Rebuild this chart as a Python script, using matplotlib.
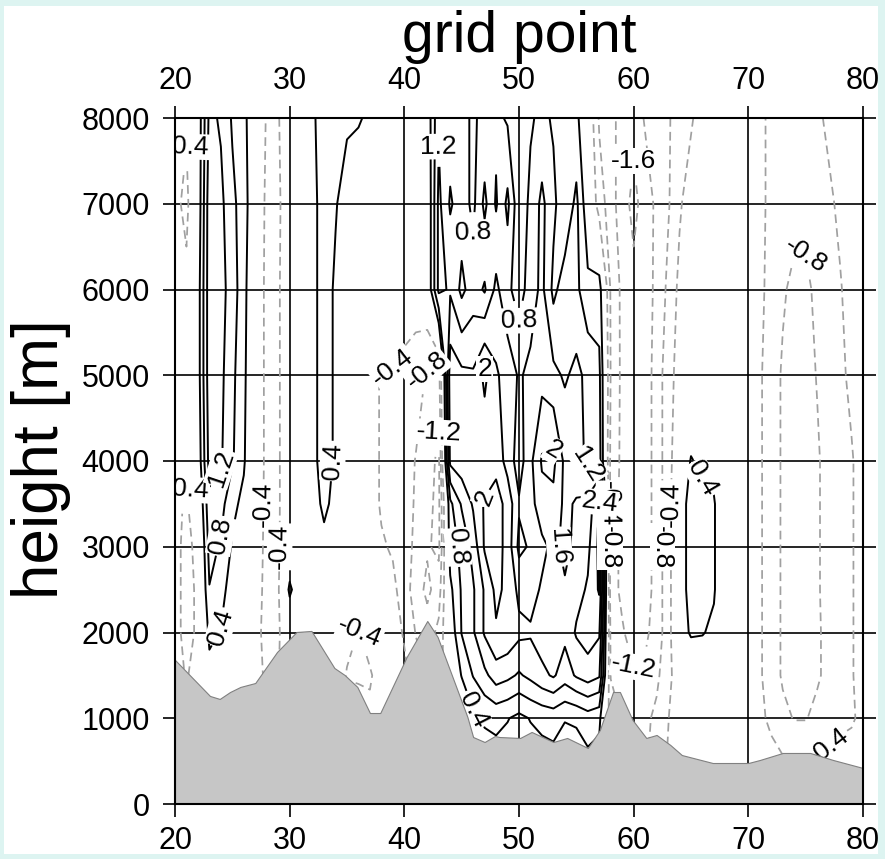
import numpy as np
import matplotlib
matplotlib.use("Agg")
import matplotlib.pyplot as plt
from matplotlib.patches import Rectangle

plt.rcParams['font.family'] = ['Liberation Sans', 'DejaVu Sans']

# ---------------- data ----------------
grid_points = list(range(20, 81))          # x nodes (grid point)
heights = [0, 1000, 1500, 2000, 2500, 3000, 3500, 4000, 5000, 6000, 7000, 8000]

# field values, one row per height, columns = grid points 20..80
row_0 = [-0.2, -0.3, -0.2, 0.1, 0.0, 0.0, 0.0, -0.2, -0.4, -0.3,
         -0.1, 0, 0, 0, 0, 0, 0, 0, 0, 0,
         -0.3, -0.6, -0.8, -0.6, 0, 0, 0, 0, 0, 0,
         0, 0, 0, 0, 0, 0, 0, 0, -0.5, -0.7,
         -0.8, -0.8, -0.6, -0.3, -0.1, 0, 0, 0, 0, 0,
         0, 0, 0, 0, 0, 0, 0, 0, 0, 0, 0]
row_1000 = [-0.2, -0.3, -0.2, 0.1, 0.0, 0.0, 0.0, -0.2, -0.4, -0.3,
            -0.1, 0, 0, 0, 0, 0, 0, -0.3, -0.2, -0.1,
            -0.3, -0.6, -0.8, -0.6, 0, 0, 0.3, 0.45, 0.5, 0.42,
            0.3, 0.42, 0.5, 0.55, 0.42, 0.45, 0.6, 0.5, -0.6, -0.82,
            -0.9, -0.9, -0.7, -0.42, -0.1, 0, 0, 0, 0, -0.1,
            -0.2, -0.3, -0.5, -0.7, -0.82, -0.82, -0.7, -0.6, -0.5, -0.45, -0.3]
row_1500 = [-0.3, -0.42, -0.3, 0.25, 0.1, 0.0, -0.1, -0.3, -0.45, -0.42,
            -0.1, 0, 0, 0, 0, -0.45, -0.5, -0.45, -0.2, -0.1,
            -0.3, -0.6, -0.82, -0.6, 0, 0.42, 0.82, 1.1, 1.4, 1.3,
            1.15, 1.3, 1.5, 1.65, 1.4, 1.65, 1.8, 1.65, -0.82, -1.0,
            -1.15, -1.1, -0.9, -0.5, -0.2, 0, 0, 0, 0, -0.1,
            -0.2, -0.35, -0.6, -0.85, -0.95, -0.95, -0.85, -0.7, -0.5, -0.42, -0.3]
row_2000 = [-0.3, -0.5, -0.35, 0.5, 0.38, 0.05, -0.1, -0.3, -0.5, -0.45,
            -0.1, 0, 0, 0, 0, -0.2, -0.42, -0.2, -0.1, -0.2,
            -0.45, -0.82, -1.0, -0.7, 0.1, 0.82, 1.15, 1.65, 1.95, 1.9,
            1.7, 1.65, 1.8, 1.9, 1.7, 2.05, 2.2, 2.05, -0.9, -1.15,
            -1.4, -1.3, -1.0, -0.6, 0.2, 0.45, 0.43, 0.3, 0, -0.1,
            -0.2, -0.35, -0.6, -0.85, -0.95, -0.95, -0.85, -0.7, -0.5, -0.42, -0.3]
row_2500 = [-0.3, -0.5, -0.35, 0.78, 0.55, 0.2, 0.0, -0.25, -0.5, -0.45,
            0.5, 0, 0, 0, 0, 0, -0.1, -0.1, -0.2, -0.3,
            -0.6, -1.0, -1.3, -1.0, 0.3, 0.85, 1.15, 1.65, 2.1, 1.9,
            1.5, 1.45, 1.65, 1.7, 1.65, 1.85, 2.05, 2.45, -1.0, -1.3,
            -1.5, -1.45, -1.0, -0.6, 0.2, 0.55, 0.55, 0.45, -0.1, -0.1,
            -0.2, -0.35, -0.6, -0.85, -0.95, -0.95, -0.85, -0.65, -0.5, -0.42, -0.3]
row_3000 = [-0.3, -0.5, -0.3, 0.95, 0.75, 0.35, 0.1, -0.2, -0.5, -0.45,
            -0.05, 0, 0, 0.2, 0, 0, 0, -0.1, -0.35, -0.45,
            -0.6, -0.9, -1.15, -1.3, 0.6, 0.9, 1.35, 2.05, 2.2, 1.85,
            1.1, 1.25, 1.5, 1.7, 1.5, 1.7, 1.9, 2.5, -1.0, -1.3,
            -1.5, -1.45, -1.0, -0.6, 0.2, 0.55, 0.55, 0.45, -0.1, -0.1,
            -0.2, -0.35, -0.6, -0.85, -0.95, -0.95, -0.85, -0.65, -0.5, -0.42, -0.3]
row_3500 = [-0.3, -0.45, -0.1, 1.1, 0.95, 0.5, 0.3, -0.15, -0.5, -0.45,
            -0.1, 0, 0.1, 0.55, 0.2, 0, 0, -0.2, -0.45, -0.5,
            -0.6, -0.85, -1.1, -1.3, 0.7, 1.25, 1.65, 2.05, 2.2, 1.85,
            1.25, 1.45, 1.85, 1.9, 1.5, 1.65, 1.7, 2.45, -1.0, -1.3,
            -1.5, -1.45, -1.0, -0.6, 0.2, 0.55, 0.55, 0.45, -0.1, -0.1,
            -0.2, -0.35, -0.6, -0.85, -0.95, -0.95, -0.85, -0.65, -0.5, -0.42, -0.3]
row_4000 = [-0.2, -0.3, 0.1, 1.35, 1.25, 0.85, 0.45, -0.1, -0.5, -0.45,
            -0.1, 0, 0.2, 0.7, 0.3, 0, 0, -0.2, -0.45, -0.5,
            -0.6, -0.82, -1.0, -1.3, 1.7, 1.85, 1.7, 1.7, 1.85, 1.45,
            1.0, 1.5, 2.05, 2.1, 1.5, 1.3, 1.15, 1.0, -0.9, -1.3,
            -1.5, -1.45, -1.0, -0.6, 0.0, 0.43, 0.3, 0.2, -0.1, -0.1,
            -0.2, -0.35, -0.6, -0.85, -0.95, -0.95, -0.85, -0.65, -0.5, -0.42, -0.3]
row_5000 = [-0.1, -0.2, 0.2, 1.45, 1.3, 0.9, 0.5, -0.1, -0.5, -0.45,
            -0.1, 0, 0.2, 0.7, 0.3, 0, 0, -0.2, -0.45, -0.42,
            -0.5, -0.6, -0.85, -1.0, 1.85, 1.7, 1.65, 2.1, 1.65, 1.45,
            1.15, 1.3, 1.45, 1.3, 1.15, 1.3, 1.1, 0.9, -0.82, -1.3,
            -1.5, -1.45, -1.0, -0.6, -0.2, -0.1, 0, 0, -0.1, -0.1,
            -0.2, -0.35, -0.6, -0.85, -0.95, -0.95, -0.78, -0.6, -0.45, -0.35, -0.3]
row_6000 = [-0.2, -0.3, 0.2, 1.45, 1.35, 1.0, 0.55, -0.1, -0.5, -0.45,
            -0.1, 0, 0.2, 0.7, 0.3, 0, 0, -0.1, -0.2, -0.2,
            -0.2, -0.2, 0.0, 1.3, 1.15, 0.7, 1.0, 0.75, 1.3, 0.9,
            0.6, 1.0, 1.3, 0.7, 1.0, 0.9, 0.5, 0.6, -0.85, -1.3,
            -1.5, -1.3, -1.15, -0.7, -0.3, -0.1, 0, 0, -0.1, -0.1,
            -0.2, -0.3, -0.55, -0.75, -0.9, -0.9, -0.7, -0.55, -0.42, -0.3, -0.2]
row_7000 = [-0.3, -0.5, 0.1, 1.45, 1.3, 0.9, 0.6, 0.0, -0.5, -0.45,
            -0.2, 0, 0.2, 0.7, 0.45, 0.1, 0, 0, 0, 0,
            0, 0, 0.0, 1.3, 0.75, 1.0, 0.7, 1.3, 0.75, 1.3,
            0.5, 0.9, 1.3, 0.9, 0.5, 0.9, 0.1, -0.6, -1.0, -1.45,
            -1.7, -1.45, -1.1, -0.85, -0.45, -0.2, -0.1, 0, -0.1, -0.1,
            -0.2, -0.3, -0.5, -0.6, -0.65, -0.65, -0.55, -0.45, -0.35, -0.3, -0.2]
row_8000 = [-0.2, -0.35, 0.1, 1.3, 1.15, 0.75, 0.5, 0.1, -0.45, -0.42,
            -0.2, 0, 0.3, 0.7, 0.6, 0.5, 0.45, 0.3, 0, 0,
            0, 0, 0.1, 1.15, 1.0, 0.9, 0.75, 0.9, 0.9, 0.75,
            0.7, 0.75, 0.9, 0.75, 0.6, 0.5, 0.0, -0.85, -1.0, -1.45,
            -1.5, -1.15, -1.0, -0.85, -0.6, -0.45, -0.2, -0.1, -0.1, -0.1,
            -0.2, -0.3, -0.5, -0.55, -0.6, -0.55, -0.45, -0.35, -0.3, -0.25, -0.2]
field_rows = [row_0, row_1000, row_1500, row_2000, row_2500, row_3000,
              row_3500, row_4000, row_5000, row_6000, row_7000, row_8000]

# terrain profile
terrain_gp = [20, 23.05, 23.9, 24.8, 25.7, 27.0, 28.9, 30.6, 31.9, 33.9, 34.8,
              35.9, 37.0, 37.9, 40.2, 42.0, 42.9, 45.5, 46.0, 47.0, 47.9, 48.3,
              50.1, 51.1, 53.0, 54.2, 56.0, 57.05, 58.2, 58.8, 59.9, 61.1, 62.0,
              63.2, 64.2, 66.9, 70.0, 71.0, 73.0, 75.4, 77.4, 80]
terrain_m = [1680, 1260, 1225, 1306, 1365, 1411, 1773, 2006, 2018, 1586, 1504,
             1365, 1061, 1061, 1714, 2134, 1948, 1015, 781, 723, 793, 781,
             770, 840, 723, 770, 653, 863, 1306, 1306, 980, 770, 805,
             688, 571, 478, 478, 513, 595, 595, 513, 420]

neg_levels = [-2.0, -1.6, -1.2, -0.8, -0.4]
pos_levels = [0.4, 0.8, 1.2, 1.6, 2.0, 2.4, 2.8]
x_ticks = [20, 30, 40, 50, 60, 70, 80]
y_ticks = [0, 1000, 2000, 3000, 4000, 5000, 6000, 7000, 8000]

# ---------------- figure ----------------
W, H = 885, 859
fig = plt.figure(figsize=(W / 100, H / 100), dpi=100, facecolor='#ddf4f1')
fig.patches.append(Rectangle((4 / W, 5 / H), (878 - 4) / W, (853 - 5) / H,
                             transform=fig.transFigure, facecolor='white',
                             edgecolor='none', zorder=-1))
ax = fig.add_axes([175 / W, 1 - 804 / H, (863 - 175) / W, (804 - 118) / H])

F = np.array(field_rows, dtype=float)
X = np.array(grid_points, dtype=float)
Y = np.array(heights, dtype=float)

fmt = lambda v: f"{round(v, 1):g}"

cs_neg = ax.contour(X, Y, F, levels=neg_levels, colors='#a0a0a0',
                    linewidths=1.25, linestyles=[(0, (5, 3))], zorder=2)
cs_pos = ax.contour(X, Y, F, levels=pos_levels, colors='black',
                    linewidths=1.4, linestyles='solid', zorder=2)

labels = []
labels += ax.clabel(cs_neg, fmt=fmt, fontsize=19, colors='black', inline=True,
                    inline_spacing=2)
labels += ax.clabel(cs_pos, fmt=fmt, fontsize=19, colors='black', inline=True,
                    inline_spacing=2)
for t in labels:
    t.set_bbox(dict(facecolor='white', edgecolor='none', pad=0.5))
    t.set_zorder(2.6)

ax.fill_between(terrain_gp, 0, terrain_m, facecolor='#c6c6c6',
                edgecolor='#808080', linewidth=0.8, zorder=3)

ax.set_xlim(20, 80)
ax.set_ylim(0, 8000)
ax.set_xticks(x_ticks)
ax.set_yticks(y_ticks)
ax.grid(True, color='black', linewidth=1.2, zorder=1)
ax.set_axisbelow(True)
ax.tick_params(axis='both', direction='out', length=9, width=1.2,
               top=True, right=True, labeltop=True, labelbottom=True,
               labelleft=True, labelright=False, labelsize=22, color='black')
ax.tick_params(axis='x', pad=7)
ax.tick_params(axis='y', pad=9)
for s in ax.spines.values():
    s.set_linewidth(1.5)
    s.set_zorder(5)

fig.text(519 / W, 1 - 52 / H, 'grid point', fontsize=41, ha='center',
         va='baseline')
fig.text(41 / W, 1 - 459 / H, 'height [m]', fontsize=46, ha='center',
         va='center', rotation=90)

fig.savefig('out.png', dpi=100, facecolor=fig.get_facecolor())
